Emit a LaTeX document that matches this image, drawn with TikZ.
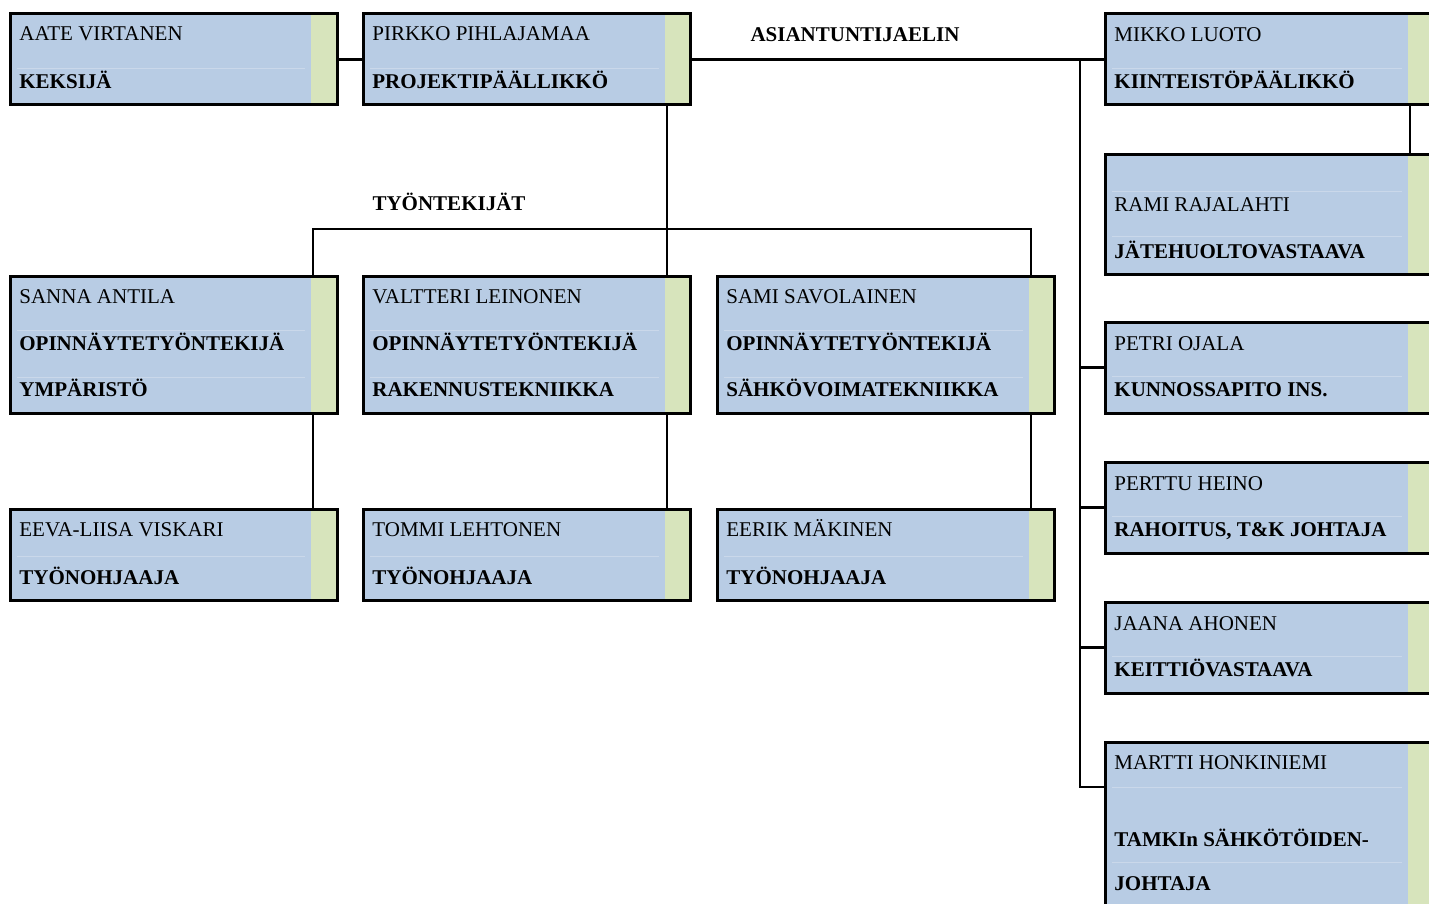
\documentclass[tikz,border=0pt]{standalone}
\usepackage{fontspec}
\setmainfont{Liberation Serif}
\usetikzlibrary{fit}
\definecolor{bluefill}{HTML}{B8CCE4}
\definecolor{greenfill}{HTML}{D7E4BC}
\definecolor{faintline}{HTML}{CAD8EA}
\tikzset{
  boxborder/.style={draw=black, line width=1.5pt, inner sep=0pt, fill=none, rectangle},
  nametext/.style={anchor=base west, inner sep=0pt, font=\fontsize{10.5}{12}\selectfont},
  roletext/.style={anchor=base west, inner sep=0pt, font=\fontsize{10.5}{12}\selectfont\bfseries},
  headtext/.style={anchor=base, inner sep=0pt, font=\fontsize{10.5}{12}\selectfont\bfseries},
  link/.style={draw=black, line width=1.2pt},
  thinlink/.style={draw=black, line width=0.8pt},
  faint/.style={draw=faintline, line width=0.4pt}
}
% \orgbox{name}{x1}{y1}{x2}{y2}{green start}
\newcommand{\orgbox}[6]{%
  \fill[bluefill] (#2,#3) rectangle (#6,#5);
  \fill[greenfill] (#6,#3) rectangle (#4,#5);
  \node[boxborder, fit={(#2,#3)(#4,#5)}] (#1) {};
}
\begin{document}
\begin{tikzpicture}[x=0.5pt,y=-0.5pt]
\useasboundingbox (0,0) rectangle (1429,904);
\clip (0,0) rectangle (1429,904);
\fill[white] (0,0) rectangle (1429,904);

% ---- boxes ----
\orgbox{aate}{10}{14}{337}{105}{311}
\orgbox{pirkko}{363}{14}{690}{105}{665}
\orgbox{mikko}{1105}{14}{1442}{105}{1408}
\orgbox{rami}{1105}{154}{1442}{274}{1408}
\orgbox{petri}{1105}{322}{1442}{413}{1408}
\orgbox{perttu}{1105}{462}{1442}{553}{1408}
\orgbox{jaana}{1105}{602}{1442}{693}{1408}
\orgbox{martti}{1105}{742}{1442}{925}{1408}
\orgbox{sanna}{10}{276}{337}{413}{311}
\orgbox{valt}{363}{276}{690}{413}{665}
\orgbox{sami}{717}{276}{1054}{413}{1029}
\orgbox{eeva}{10}{509}{337}{600}{311}
\orgbox{tommi}{363}{509}{690}{600}{665}
\orgbox{eerik}{717}{509}{1054}{600}{1029}

% ---- faint cell separators ----
\draw[faint] (17,68) -- (305,68);
\draw[faint] (370,68) -- (659,68);
\draw[faint] (1112,68) -- (1402,68);
\draw[faint] (1112,191) -- (1402,191);
\draw[faint] (1112,236) -- (1402,236);
\draw[faint] (1112,376) -- (1402,376);
\draw[faint] (1112,516) -- (1402,516);
\draw[faint] (1112,656) -- (1402,656);
\draw[faint] (1112,787) -- (1402,787);
\draw[faint] (1112,862) -- (1402,862);
\draw[faint] (17,330) -- (305,330);
\draw[faint] (17,377) -- (305,377);
\draw[faint] (370,330) -- (659,330);
\draw[faint] (370,377) -- (659,377);
\draw[faint] (724,330) -- (1023,330);
\draw[faint] (724,377) -- (1023,377);
\draw[faint] (17,556) -- (305,556);
\draw[faint] (370,556) -- (659,556);
\draw[faint] (724,556) -- (1023,556);

% ---- texts ----
\node[nametext] (t1) at (19,41) {AATE VIRTANEN};
\node[roletext] (t2) at (19,89) {KEKSIJÄ};
\node[nametext] (t3) at (372,41) {PIRKKO PIHLAJAMAA};
\node[roletext] (t4) at (372,89) {PROJEKTIPÄÄLLIKKÖ};
\node[nametext] (t5) at (1114,42) {MIKKO LUOTO};
\node[roletext] (t6) at (1114,89) {KIINTEISTÖPÄÄLIKKÖ};
\node[nametext] (t7) at (1114,211) {RAMI RAJALAHTI};
\node[roletext] (t8) at (1114,258) {JÄTEHUOLTOVASTAAVA};
\node[nametext] (t9) at (1114,350) {PETRI OJALA};
\node[roletext] (t10) at (1114,396) {KUNNOSSAPITO INS.};
\node[nametext] (t11) at (1114,490) {PERTTU HEINO};
\node[roletext] (t12) at (1114,536) {RAHOITUS, T\&K JOHTAJA};
\node[nametext] (t13) at (1114,630) {JAANA AHONEN};
\node[roletext] (t14) at (1114,676) {KEITTIÖVASTAAVA};
\node[nametext] (t15) at (1114,769) {MARTTI HONKINIEMI};
\node[roletext] (t16) at (1114,846) {TAMKIn SÄHKÖTÖIDEN-};
\node[roletext] (t17) at (1114,890) {JOHTAJA};
\node[nametext] (t18) at (19,303) {SANNA ANTILA};
\node[roletext] (t19) at (19,350) {OPINNÄYTETYÖNTEKIJÄ};
\node[roletext] (t20) at (19,396) {YMPÄRISTÖ};
\node[nametext] (t21) at (372,303) {VALTTERI LEINONEN};
\node[roletext] (t22) at (372,350) {OPINNÄYTETYÖNTEKIJÄ};
\node[roletext] (t23) at (372,396) {RAKENNUSTEKNIIKKA};
\node[nametext] (t24) at (726,303) {SAMI SAVOLAINEN};
\node[roletext] (t25) at (726,350) {OPINNÄYTETYÖNTEKIJÄ};
\node[roletext] (t26) at (726,396) {SÄHKÖVOIMATEKNIIKKA};
\node[nametext] (t27) at (19,536) {EEVA-LIISA VISKARI};
\node[roletext] (t28) at (19,584) {TYÖNOHJAAJA};
\node[nametext] (t29) at (372,536) {TOMMI LEHTONEN};
\node[roletext] (t30) at (372,584) {TYÖNOHJAAJA};
\node[nametext] (t31) at (726,536) {EERIK MÄKINEN};
\node[roletext] (t32) at (726,584) {TYÖNOHJAAJA};

\node[headtext] (asi) at (855,42) {ASIANTUNTIJAELIN};
\node[headtext] (tyo) at (449,210) {TYÖNTEKIJÄT};

% ---- connector coordinates ----
\coordinate (busx) at (1080,0);
\coordinate (midx) at (667,0);
\coordinate (leftx) at (313,0);
\coordinate (rightx) at (1031,0);
\coordinate (mrx) at (1410,0);
\coordinate (empy) at (0,229);
\coordinate (martty) at (0,787);
\coordinate (bustop) at (1080,59.5);
\coordinate (martin) at (1105,787);

% ---- connectors ----
\draw[link] (aate.east) -- (pirkko.west);
\draw[link] (pirkko.east) -- (mikko.west);
\draw[link] (bustop) -- (busx |- martty) -- (martin);
\draw[link] (busx |- petri.west) -- (petri.west);
\draw[link] (busx |- perttu.west) -- (perttu.west);
\draw[link] (busx |- jaana.west) -- (jaana.west);
\draw[link] (mikko.south -| mrx) -- (rami.north -| mrx);

\draw[thinlink] (pirkko.south -| midx) -- (valt.north -| midx);
\draw[thinlink] (sanna.north -| leftx) -- (leftx |- empy) -- (rightx |- empy) -- (sami.north -| rightx);
\draw[thinlink] (sanna.south -| leftx) -- (eeva.north -| leftx);
\draw[thinlink] (valt.south -| midx) -- (tommi.north -| midx);
\draw[thinlink] (sami.south -| rightx) -- (eerik.north -| rightx);
\end{tikzpicture}
\end{document}
